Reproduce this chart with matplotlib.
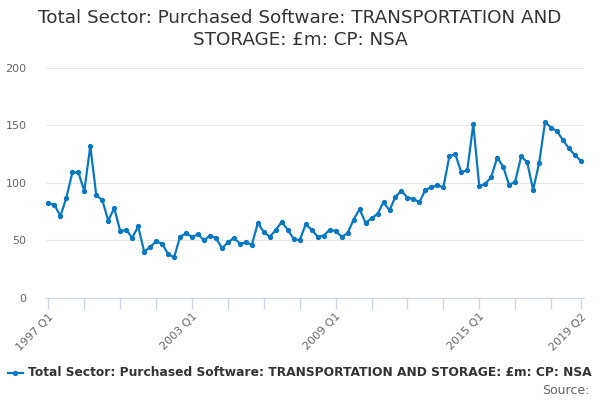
import matplotlib
matplotlib.use("Agg")
import matplotlib.pyplot as plt

# quarterly values, 1997 Q1 .. 2019 Q2
values = [82, 81, 71, 87, 109, 109, 93, 132, 89, 85,
          67, 78, 58, 59, 52, 62, 40, 44, 49, 47,
          38, 35, 53, 56, 53, 55, 50, 54, 52, 43,
          48, 52, 47, 48, 46, 65, 57, 53, 59, 66,
          59, 51, 50, 64, 59, 53, 54, 59, 58, 53,
          56, 68, 77, 65, 69, 73, 83, 76, 88, 93,
          87, 86, 83, 94, 96, 98, 96, 123, 125, 109,
          111, 151, 97, 99, 105, 122, 114, 98, 101, 123,
          118, 94, 117, 153, 148, 145, 137, 130, 124, 119]
quarters = ["%d Q%d" % (1997 + i // 4, i % 4 + 1) for i in range(len(values))]
tick_pos = list(range(0, len(values), 6)) + [len(values) - 1]
label_pos = [0, 24, 48, 72, len(values) - 1]
y_ticks = [0, 50, 100, 150, 200]

title = "Total Sector: Purchased Software: TRANSPORTATION AND STORAGE: £m: CP: NSA"
blue = "#0a78c0"

plt.rcParams['font.family'] = ['DejaVu Sans']
fig = plt.figure(figsize=(6, 4), dpi=100)
ax = fig.add_axes([0.0767, 0.256, 0.8966, 0.574])

x = list(range(len(values)))
ax.plot(x, values, color=blue, linewidth=1.6, marker='o', markersize=2.8)

ax.set_xlim(-0.4, 89.5)
ax.set_ylim(0, 200)
ax.set_yticks(y_ticks)
ax.set_yticklabels([str(v) for v in y_ticks], color="#666666", fontsize=8)
ax.tick_params(axis='y', length=0, pad=14)
ax.grid(axis='y', color="#e6e6e6", linewidth=0.8)
ax.set_axisbelow(True)

ax.set_xticks(tick_pos)
ax.set_xticklabels([quarters[i] if i in label_pos else "" for i in tick_pos],
                   rotation=45, ha='right', rotation_mode='anchor',
                   color="#666666", fontsize=8)
ax.tick_params(axis='x', length=8, color="#ccd6eb", width=1, pad=2)

for s in ['top', 'right', 'left']:
    ax.spines[s].set_visible(False)
ax.spines['bottom'].set_color("#ccd6eb")

fig.text(0.5, 0.9275, "Total Sector: Purchased Software: TRANSPORTATION AND\nSTORAGE: £m: CP: NSA",
         ha='center', va='center', fontsize=13.25, color="#333333", linespacing=1.25)

# legend
fig.lines.append(plt.Line2D([0.013, 0.0255, 0.038], [0.068, 0.068, 0.068], color=blue,
                            linewidth=1.6, marker='o', markersize=2.8,
                            markevery=[1], transform=fig.transFigure))
fig.text(0.047, 0.068, title, ha='left', va='center', fontsize=8.8,
         fontweight='bold', color="#333333")
fig.text(0.983, 0.023, "Source:", ha='right', va='center', fontsize=9,
         color="#666666")

fig.savefig("out.png")
plt.close()
